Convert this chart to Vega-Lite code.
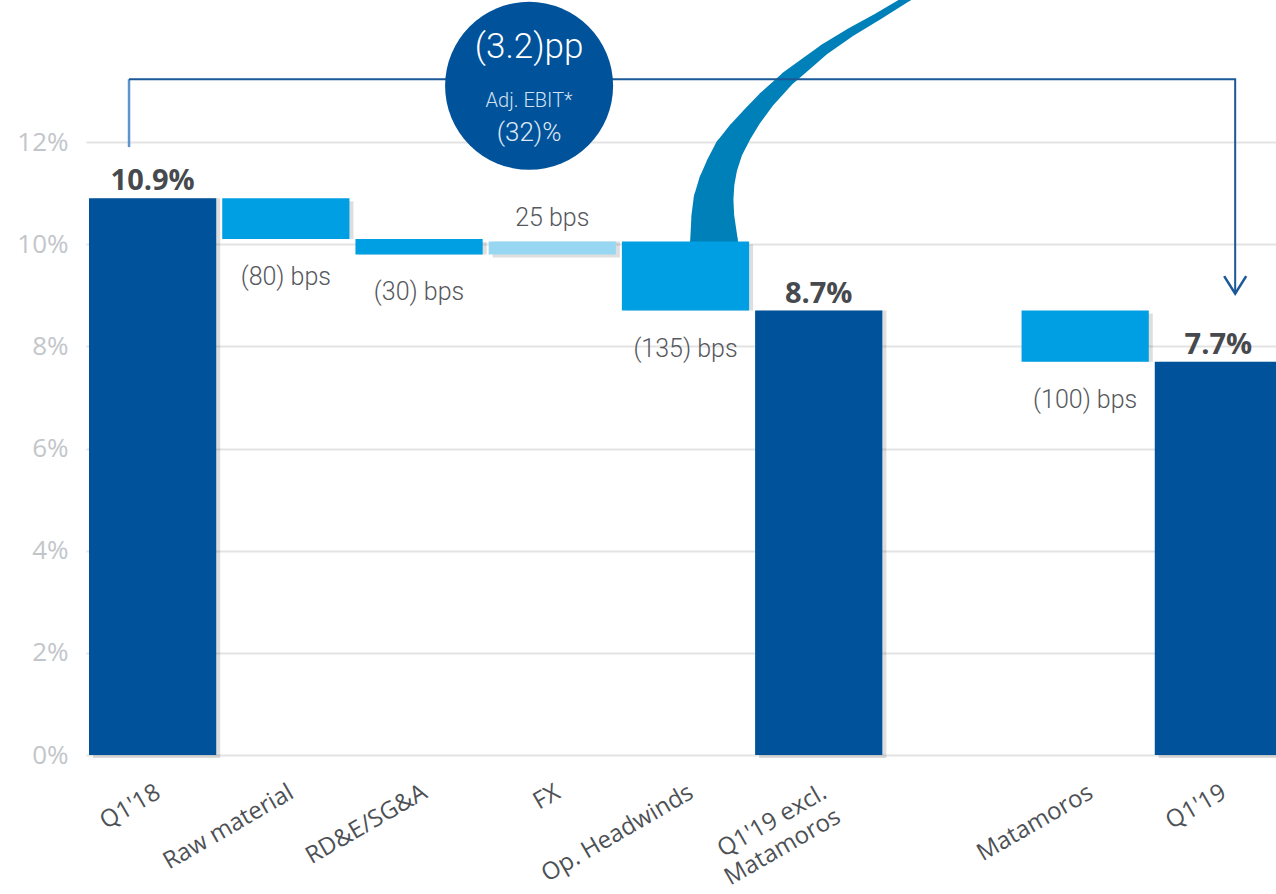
{
  "$schema": "https://vega.github.io/schema/vega-lite/v6.json",
  "width": 1190,
  "height": 613,
  "autosize": {"type": "none"},
  "padding": {"left": 86, "top": 142, "right": 0, "bottom": 139},
  "background": "#ffffff",
  "config": {"view": {"stroke": null}},
  "datasets": {
    "bars": [
      {"cat": "Q1'18", "start": 0, "end": 10.9, "type": "total", "label": "10.9%"},
      {"cat": "Raw material", "start": 10.9, "end": 10.1, "type": "decrease", "label": "(80) bps"},
      {"cat": "RD&E/SG&A", "start": 10.1, "end": 9.8, "type": "decrease", "label": "(30) bps"},
      {"cat": "FX", "start": 9.8, "end": 10.05, "type": "increase", "label": "25 bps"},
      {"cat": "Op. Headwinds", "start": 10.05, "end": 8.7, "type": "decrease", "label": "(135) bps"},
      {"cat": "Q1'19 excl.\nMatamoros", "start": 0, "end": 8.7, "type": "total", "label": "8.7%"},
      {"cat": "Matamoros", "start": 8.7, "end": 7.7, "type": "decrease", "label": "(100) bps"},
      {"cat": "Q1'19", "start": 0, "end": 7.7, "type": "total", "label": "7.7%"}
    ],
    "swoosh": [
      {"order": 1, "x": 4.714, "v": 9.886, "w": 48},
      {"order": 2, "x": 4.714, "v": 10.04, "w": 48},
      {"order": 3, "x": 4.705, "v": 10.53, "w": 43},
      {"order": 4, "x": 4.71, "v": 10.865, "w": 40},
      {"order": 5, "x": 4.733, "v": 11.198, "w": 36},
      {"order": 6, "x": 4.77, "v": 11.511, "w": 32},
      {"order": 7, "x": 4.823, "v": 11.844, "w": 29},
      {"order": 8, "x": 4.905, "v": 12.177, "w": 25},
      {"order": 9, "x": 4.996, "v": 12.49, "w": 21},
      {"order": 10, "x": 5.104, "v": 12.823, "w": 18},
      {"order": 11, "x": 5.262, "v": 13.234, "w": 15},
      {"order": 12, "x": 5.375, "v": 13.469, "w": 13.5},
      {"order": 13, "x": 5.536, "v": 13.802, "w": 11},
      {"order": 14, "x": 5.731, "v": 14.135, "w": 9},
      {"order": 15, "x": 5.938, "v": 14.448, "w": 7.5},
      {"order": 16, "x": 6.148, "v": 14.781, "w": 6.5},
      {"order": 17, "x": 6.343, "v": 15.074, "w": 6}
    ],
    "bracket": [
      {"seg": "left", "order": 1, "x": 0.323, "v": 11.9},
      {"seg": "left", "order": 2, "x": 0.323, "v": 13.23},
      {"seg": "main", "order": 1, "x": 0.323, "v": 13.23},
      {"seg": "main", "order": 2, "x": 8.626, "v": 13.23},
      {"seg": "main", "order": 3, "x": 8.626, "v": 9.04}
    ],
    "notes": [
      {"item": "arrow", "x": 8.626, "v": 9.03, "text": ""},
      {"item": "bubble", "x": 3.326, "v": 13.1, "text": ""},
      {"item": "t1", "x": 3.326, "v": 13.86, "text": "(3.2)pp"},
      {"item": "t2", "x": 3.326, "v": 12.8, "text": "Adj. EBIT*"},
      {"item": "t3", "x": 3.326, "v": 12.18, "text": "(32)%"}
    ]
  },
  "resolve": {"scale": {"x": "independent"}},
  "layer": [
    {
      "encoding": {
        "x": {"field": "x", "type": "quantitative", "scale": {"domain": [0, 9], "range": [0, 1199], "nice": false, "zero": false}, "axis": null},
        "y": {
          "field": "v", "type": "quantitative", "scale": {"domain": [0, 12], "nice": false},
          "axis": {"title": null, "values": [0, 2, 4, 6, 8, 10, 12], "labelExpr": "datum.value + '%'", "domain": false, "ticks": false, "grid": true, "gridColor": "#e3e3e3", "gridWidth": 2, "labelFont": "Open Sans", "labelFontSize": 26, "labelColor": "#c2c6ca", "labelPadding": 18}
        }
      },
      "layer": [
        {
          "data": {"name": "swoosh"},
          "mark": {"type": "trail", "color": "#0080b8"},
          "encoding": {
            "order": {"field": "order", "type": "quantitative"},
            "size": {"field": "w", "type": "quantitative", "scale": null, "legend": null}
          }
        },
        {
          "data": {"name": "bracket"},
          "transform": [{"filter": "datum.seg == 'left'"}],
          "mark": {"type": "line", "color": "#5b95cb", "strokeWidth": 2.5},
          "encoding": {"order": {"field": "order", "type": "quantitative"}}
        },
        {
          "data": {"name": "bracket"},
          "transform": [{"filter": "datum.seg == 'main'"}],
          "mark": {"type": "line", "color": "#1b5898", "strokeWidth": 2},
          "encoding": {"order": {"field": "order", "type": "quantitative"}}
        },
        {
          "data": {"name": "notes"},
          "transform": [{"filter": "datum.item == 'arrow'"}],
          "mark": {"type": "point", "shape": "M-1,-1.6L0,0L1,-1.6", "size": 484, "filled": false, "stroke": "#1b5898", "strokeWidth": 2.5, "opacity": 1}
        },
        {
          "data": {"name": "notes"},
          "transform": [{"filter": "datum.item == 'bubble'"}],
          "mark": {"type": "point", "shape": "circle", "size": 28224, "filled": true, "color": "#00529b", "opacity": 1}
        },
        {
          "data": {"name": "notes"},
          "transform": [{"filter": "datum.item == 't1'"}],
          "mark": {"type": "text", "font": "Roboto", "fontWeight": 300, "fontSize": 35, "color": "#ffffff", "baseline": "middle", "align": "center"},
          "encoding": {"text": {"field": "text"}}
        },
        {
          "data": {"name": "notes"},
          "transform": [{"filter": "datum.item == 't2'"}],
          "mark": {"type": "text", "font": "Roboto", "fontWeight": 300, "fontSize": 20, "color": "#d3e1f0", "baseline": "middle", "align": "center"},
          "encoding": {"text": {"field": "text"}}
        },
        {
          "data": {"name": "notes"},
          "transform": [{"filter": "datum.item == 't3'"}],
          "mark": {"type": "text", "font": "Roboto", "fontWeight": 300, "fontSize": 26, "color": "#dfe8f3", "baseline": "middle", "align": "center"},
          "encoding": {"text": {"field": "text"}}
        }
      ]
    },
    {
      "data": {"name": "bars"},
      "encoding": {
        "x": {
          "field": "cat", "type": "nominal", "sort": null,
          "scale": {"domain": ["Q1'18", "Raw material", "RD&E/SG&A", "FX", "Op. Headwinds", "Q1'19 excl.\nMatamoros", " ", "Matamoros", "Q1'19"], "range": [0, 1199], "paddingInner": 0.045, "paddingOuter": 0.0225},
          "axis": {"title": null, "orient": "bottom", "domain": false, "ticks": false, "grid": false, "labelAngle": -30, "labelAlign": "right", "labelBaseline": "top", "labelPadding": 25, "labelFont": "Open Sans", "labelFontSize": 24, "labelColor": "#4d5156", "labelExpr": "split(datum.label, '\\n')", "labelLineHeight": 28, "labelOverlap": false, "labelLimit": 0, "labelBound": false, "labelFlush": false}
        },
        "y": {
          "field": "start", "type": "quantitative", "scale": {"domain": [0, 12], "nice": false},
          "axis": {"title": null, "values": [0, 2, 4, 6, 8, 10, 12], "labelExpr": "datum.value + '%'", "domain": false, "ticks": false, "grid": true, "gridColor": "#e3e3e3", "gridWidth": 2, "labelFont": "Open Sans", "labelFontSize": 26, "labelColor": "#c2c6ca", "labelPadding": 18}
        }
      },
      "layer": [
        {
          "mark": {"type": "bar", "color": "#000000", "opacity": 0.13, "xOffset": 4, "yOffset": 3},
          "encoding": {"y2": {"field": "end"}}
        },
        {
          "mark": {"type": "bar"},
          "encoding": {
            "y2": {"field": "end"},
            "color": {"field": "type", "type": "nominal", "scale": {"domain": ["total", "decrease", "increase"], "range": ["#00539b", "#009fe3", "#97d7f2"]}, "legend": null}
          }
        },
        {
          "transform": [{"filter": "datum.type == 'total'"}],
          "mark": {"type": "text", "font": "Open Sans", "fontWeight": "bold", "fontSize": 29, "color": "#46494d", "baseline": "alphabetic", "dy": -8},
          "encoding": {
            "y": {"field": "end", "type": "quantitative"},
            "text": {"field": "label"}
          }
        },
        {
          "transform": [{"filter": "datum.type == 'increase'"}],
          "mark": {"type": "text", "font": "Roboto", "fontWeight": 300, "fontSize": 25, "color": "#55585c", "baseline": "alphabetic", "dy": -16},
          "encoding": {
            "y": {"field": "end", "type": "quantitative"},
            "text": {"field": "label"}
          }
        },
        {
          "transform": [{"filter": "datum.type == 'decrease'"}],
          "mark": {"type": "text", "font": "Roboto", "fontWeight": 300, "fontSize": 25, "color": "#55585c", "baseline": "middle", "dy": 38},
          "encoding": {
            "y": {"field": "end", "type": "quantitative"},
            "text": {"field": "label"}
          }
        }
      ]
    }
  ]
}
